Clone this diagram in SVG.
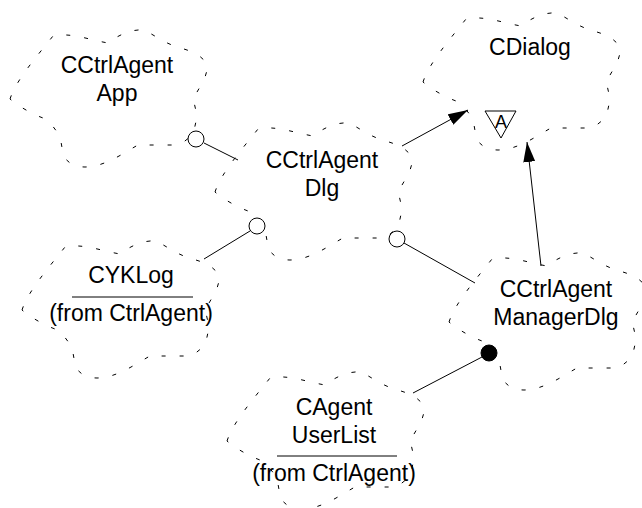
<svg xmlns="http://www.w3.org/2000/svg" xmlns:xlink="http://www.w3.org/1999/xlink" width="642" height="508" viewBox="0 0 642 508">
  <style>
    .cloud { fill: none; stroke: #000; stroke-width: 1; stroke-dasharray: 4 14; }
    .name { font-family: "Liberation Sans", Arial, sans-serif; font-size: 23px; fill: #000; text-anchor: middle; }
    .sep { stroke: #000; stroke-width: 1; }
    .link { stroke: #000; stroke-width: 1; fill: none; }
    .hasOpen { fill: #fff; stroke: #000; stroke-width: 1; }
    .hasFull { fill: #000; stroke: #000; stroke-width: 1; }
  </style>
  <defs>
    <!-- Booch class cloud, 197 x 137 -->
    <path id="cloud" d="M0,69 C6,50 28,25 43,6 C60,2 80,10 98,13 C108,5 122,-1 133,0 C142,3 150,11 167,17 C178,20 192,24 197,35 C198,48 188,58 183,70 C190,88 186,110 166,115 L128,115 C115,122 95,137 75,137 C60,137 52,128 52,118 C51,108 46,96 33,88 C22,84 8,76 0,69 Z"/>
    <marker id="inherit" markerUnits="userSpaceOnUse" viewBox="0 0 20 12" refX="20" refY="6" markerWidth="20" markerHeight="12" orient="auto">
      <path d="M0,0 L20,6 L0,12 Z" fill="#000"/>
    </marker>
  </defs>

  <rect width="642" height="508" fill="#fff"/>

  <g id="CCtrlAgentApp">
    <use xlink:href="#cloud" href="#cloud" class="cloud" x="10" y="30"/>
    <text class="name" x="117" y="73">CCtrlAgent</text>
    <text class="name" x="117" y="101">App</text>
  </g>

  <g id="CDialog">
    <use xlink:href="#cloud" href="#cloud" class="cloud" x="423" y="13"/>
    <text class="name" x="530" y="55">CDialog</text>
    <polygon points="485,111 516,111 501,138" fill="#fff" stroke="#000" stroke-width="1"/>
    <text x="501" y="128" font-family="Liberation Sans, Arial, sans-serif" font-size="18" text-anchor="middle">A</text>
  </g>

  <g id="CCtrlAgentDlg">
    <use xlink:href="#cloud" href="#cloud" class="cloud" x="215" y="123"/>
    <text class="name" x="322" y="168">CCtrlAgent</text>
    <text class="name" x="322" y="196">Dlg</text>
  </g>

  <g id="CYKLog">
    <use xlink:href="#cloud" href="#cloud" class="cloud" x="22" y="241"/>
    <text class="name" x="131" y="283">CYKLog</text>
    <line class="sep" x1="72" y1="297" x2="193" y2="297"/>
    <text class="name" x="131" y="321">(from CtrlAgent)</text>
  </g>

  <g id="CCtrlAgentManagerDlg">
    <use xlink:href="#cloud" href="#cloud" class="cloud" x="449" y="253"/>
    <text class="name" x="556" y="297">CCtrlAgent</text>
    <text class="name" x="556" y="325">ManagerDlg</text>
  </g>

  <g id="CAgentUserList">
    <use xlink:href="#cloud" href="#cloud" class="cloud" x="227" y="372"/>
    <text class="name" x="334" y="415">CAgent</text>
    <text class="name" x="334" y="443">UserList</text>
    <line class="sep" x1="277" y1="456" x2="397" y2="456"/>
    <text class="name" x="334" y="481">(from CtrlAgent)</text>
  </g>

  <g id="connectors">
    <!-- has relationships (open circle = by reference) -->
    <line class="link" x1="204" y1="143" x2="238" y2="160"/>
    <circle class="hasOpen" cx="196" cy="139" r="8"/>
    <line class="link" x1="250" y1="231" x2="204" y2="259"/>
    <circle class="hasOpen" cx="257" cy="226" r="8"/>
    <line class="link" x1="404" y1="243" x2="475" y2="283"/>
    <circle class="hasOpen" cx="397" cy="239" r="8"/>
    <!-- has relationship by value -->
    <line class="link" x1="482" y1="357" x2="413" y2="393"/>
    <circle class="hasFull" cx="489" cy="353" r="8"/>
    <!-- inheritance -->
    <line class="link" x1="402" y1="146" x2="468" y2="110" marker-end="url(#inherit)"/>
    <line class="link" x1="541" y1="266" x2="527" y2="142" marker-end="url(#inherit)"/>
  </g>
</svg>
